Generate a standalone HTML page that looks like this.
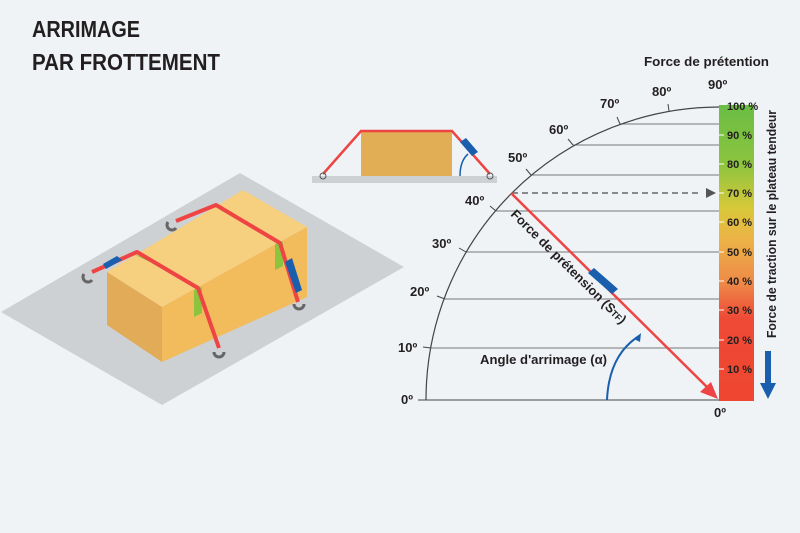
<!DOCTYPE html>
<html><head><meta charset="utf-8"><style>
html,body{margin:0;padding:0;background:#eff3f6;}
svg{display:block;}
text{font-family:"Liberation Sans Narrow","Liberation Sans",sans-serif;fill:#231f20;}
</style></head><body>
<svg width="800" height="533" viewBox="0 0 800 533" xmlns="http://www.w3.org/2000/svg">
<defs>
<linearGradient id="g" x1="0" y1="0" x2="0" y2="1">
<stop offset="0" stop-color="#6bbd45"/>
<stop offset="0.2" stop-color="#8cc43f"/>
<stop offset="0.35" stop-color="#d8c83a"/>
<stop offset="0.45" stop-color="#ecb446"/>
<stop offset="0.6" stop-color="#ee8a48"/>
<stop offset="0.72" stop-color="#ee4a36"/>
<stop offset="1" stop-color="#ee4630"/>
</linearGradient>
</defs>
<text x="32" y="37" font-size="23" font-weight="bold" textLength="108" lengthAdjust="spacingAndGlyphs">ARRIMAGE</text>
<text x="32" y="70" font-size="23" font-weight="bold" textLength="188" lengthAdjust="spacingAndGlyphs">PAR FROTTEMENT</text>

<!-- floor -->
<polygon points="1,312 240,173 404,267 162,405" fill="#cdd1d4"/>
<!-- box -->
<polygon points="107,272 243,190 307,227 162,307" fill="#f6cf7f"/>
<polygon points="107,272 162,307 162,362 107,325" fill="#e1ab58"/>
<polygon points="162,307 307,227 307,297 162,362" fill="#f2bb5c"/>
<!-- green protectors -->
<g fill="#8cc43f">
<polygon points="133,254 150,262 160,268 145,258"/>
<polygon points="175,275 192,284 200,290 184,281"/>
<polygon points="194,290 202,287 202,313 194,317"/>
<polygon points="214,205 232,212 240,218 222,211"/>
<polygon points="258,229 274,238 282,244 266,236"/>
<polygon points="275,244 283,242 283,266 275,270"/>
</g>
<!-- straps -->
<g fill="none" stroke="#ee4444" stroke-width="4" stroke-linejoin="round">
<polyline points="92,272 137,252 198,288 219,348"/>
<polyline points="176,221 216,205 280,243 298,302"/>
</g>
<g fill="#1a5fae">
<polygon points="103,264 117,256 122,260 106,269"/>
<polygon points="285,262 292,258 302,290 296,293"/>
</g>
<g fill="none" stroke="#666" stroke-width="3">
<path d="M84,274 a5,5 0 1 0 8,6"/>
<path d="M168,222 a5,5 0 1 0 8,6"/>
<path d="M214,352 a5,5 0 1 0 10,0"/>
<path d="M294,304 a5,5 0 1 0 10,0"/>
</g>

<!-- inset -->
<rect x="312" y="176" width="185" height="7" fill="#cdd1d4"/>
<rect x="361" y="131" width="91" height="45" fill="#e1ad55"/>
<polyline points="323,174 361,131 452,131 490,174" fill="none" stroke="#ee4444" stroke-width="2.5"/>
<polygon points="460,142 466,138 478,152 472,156" fill="#1a5fae"/>
<path d="M460,176 q0,-15 8,-22" fill="none" stroke="#1a5fae" stroke-width="1.5"/>
<circle cx="323" cy="176" r="3" fill="none" stroke="#555"/>
<circle cx="490" cy="176" r="3" fill="none" stroke="#555"/>

<!-- horizontal lines -->
<g stroke="#777" stroke-width="1">
<line x1="426" y1="400" x2="720" y2="400" stroke="#444"/>
<line x1="431" y1="348" x2="720" y2="348"/>
<line x1="445" y1="299" x2="720" y2="299"/>
<line x1="466" y1="252" x2="720" y2="252"/>
<line x1="496" y1="211" x2="720" y2="211"/>
<line x1="531" y1="175" x2="720" y2="175"/>
<line x1="573" y1="145" x2="720" y2="145"/>
<line x1="620" y1="124" x2="720" y2="124"/>
</g>
<path d="M426,400 A294,293 0 0 1 720,107" fill="none" stroke="#444" stroke-width="1.2"/>
<g stroke="#444" stroke-width="1">
<line x1="418" y1="400" x2="426" y2="400"/>
<line x1="423" y1="347" x2="431" y2="348"/>
<line x1="437" y1="296" x2="445" y2="299"/>
<line x1="459" y1="248" x2="466" y2="252"/>
<line x1="490" y1="206" x2="496" y2="211"/>
<line x1="526" y1="169" x2="531" y2="175"/>
<line x1="568" y1="139" x2="573" y2="145"/>
<line x1="617" y1="117" x2="620" y2="124"/>
<line x1="668" y1="104" x2="669" y2="111"/>
</g>
<g font-size="13" font-weight="bold">
<text x="401" y="404">0º</text>
<text x="398" y="352">10º</text>
<text x="410" y="296">20º</text>
<text x="432" y="248">30º</text>
<text x="465" y="205">40º</text>
<text x="508" y="162">50º</text>
<text x="549" y="134">60º</text>
<text x="600" y="108">70º</text>
<text x="652" y="96">80º</text>
<text x="708" y="89">90º</text>
<text x="714" y="417">0º</text>
<text x="644" y="66" textLength="125" lengthAdjust="spacingAndGlyphs">Force de prétention</text>
<text x="480" y="364" textLength="127" lengthAdjust="spacingAndGlyphs">Angle d'arrimage (α)</text>
<text transform="translate(510,215) rotate(44.6)">Force de prétension (S<tspan font-size="9">TF</tspan>)</text>
</g>

<!-- dashed -->
<line x1="512" y1="193" x2="700" y2="193" stroke="#666" stroke-width="1.5" stroke-dasharray="6,4"/>
<polygon points="706,188 716,193 706,198" fill="#555"/>
<!-- red arrow -->
<line x1="511" y1="193" x2="710" y2="390" stroke="#ee4444" stroke-width="2.5"/>
<polygon points="718,399 700,392 711,382" fill="#ee4444"/>
<polygon points="588,273 594,268 618,289 612,294" fill="#1a5fae"/>
<path d="M607,400 q2,-45 32,-64" fill="none" stroke="#1a5fae" stroke-width="2"/>
<polygon points="641,333 634,339 640,342" fill="#1a5fae"/>

<!-- bar -->
<rect x="719" y="105" width="35" height="296" fill="url(#g)"/>
<g font-size="11" font-weight="bold">
<text x="727" y="110">100 %</text>
<text x="727" y="139">90 %</text>
<text x="727" y="168">80 %</text>
<text x="727" y="197">70 %</text>
<text x="727" y="226">60 %</text>
<text x="727" y="256">50 %</text>
<text x="727" y="285">40 %</text>
<text x="727" y="314">30 %</text>
<text x="727" y="344">20 %</text>
<text x="727" y="373">10 %</text>
</g>
<g stroke="#fff" stroke-width="1">
<line x1="719" y1="135" x2="724" y2="135"/><line x1="719" y1="164" x2="724" y2="164"/>
<line x1="719" y1="193" x2="724" y2="193"/><line x1="719" y1="222" x2="724" y2="222"/>
<line x1="719" y1="252" x2="724" y2="252"/><line x1="719" y1="281" x2="724" y2="281"/>
<line x1="719" y1="310" x2="724" y2="310"/><line x1="719" y1="340" x2="724" y2="340"/>
<line x1="719" y1="369" x2="724" y2="369"/>
</g>
<text transform="translate(776,338) rotate(-90)" font-size="12.5" font-weight="bold" textLength="228" lengthAdjust="spacingAndGlyphs">Force de traction sur le plateau tendeur</text>
<rect x="765" y="351" width="6" height="34" fill="#1a5fae"/>
<polygon points="760,383 776,383 768,399" fill="#1a5fae"/>
</svg>
</body></html>
